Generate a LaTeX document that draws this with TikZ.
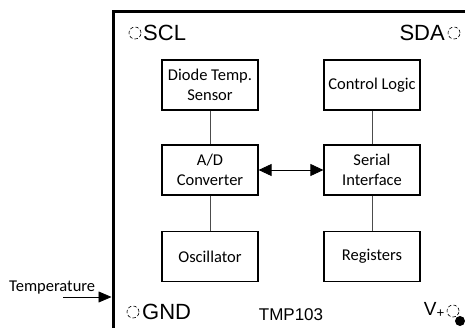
\documentclass[tikz,border=0pt]{standalone}
\usepackage{fontspec}
\setmainfont{Carlito}
\newfontfamily\arialf{Liberation Sans}
\usetikzlibrary{arrows.meta}
\begin{document}
\begin{tikzpicture}[x=1pt,y=-1pt,
  blk/.style={draw,line width=1.2pt,minimum width=96pt,minimum height=50pt,align=center,font=\fontsize{16.5}{20}\selectfont,inner sep=0pt},
  pin/.style={draw,dash pattern=on 3.5pt off 2pt,line width=0.6pt,circle,minimum size=12pt,inner sep=0pt},
  lbl/.style={font=\arialf\fontsize{22}{24}\selectfont,inner sep=0pt},
  conn/.style={line width=0.6pt,draw=black!70},
  tri/.style={-{Triangle[length=13pt,width=11pt]}}]
\useasboundingbox (0,0) rectangle (465,328);
% chip outline
\draw[line width=3pt] (113,345) -- (113,12) -- (480,12);
% blocks
\node[blk] (diode) at (210,85) {Diode Temp.\\Sensor};
\node[blk] (ctrl) at (372,85) {Control Logic};
\node[blk] (adc) at (210,170) {A/D\\Converter};
\node[blk] (ser) at (372,170) {Serial\\Interface};
\node[blk] (osc) at (210,256.5) {Oscillator};
\node[blk] (reg) at (372,256.5) {Registers};
\draw[conn] (diode) -- (adc);
\draw[conn] (adc) -- (osc);
\draw[conn] (ctrl) -- (ser);
\draw[conn] (ser) -- (reg);
\draw[line width=0.8pt,{Triangle[length=13pt,width=12pt]}-{Triangle[length=13pt,width=12pt]}] (adc) -- (ser);
% pins
\node[pin] (sclpin) at (135,33) {};
\node[lbl,anchor=west] (scl) at (143,33) {SCL};
\node[pin] (sdapin) at (454,33) {};
\node[lbl,anchor=east] (sda) at (445,33) {SDA};
\node[pin] (gndpin) at (133,312) {};
\node[lbl,anchor=west] (gnd) at (142,312) {GND};
\node[font=\arialf\fontsize{17}{19}\selectfont,inner sep=0pt] (tmp) at (291,315) {TMP103};
\node[pin] (vpin) at (453,311) {};
\node[lbl,anchor=east,font=\arialf\fontsize{19}{21}\selectfont] (vplus) at (445,310) {V\textsubscript{+}};
\fill (460,321) circle (5pt);
% temperature input
\node[font=\fontsize{16.5}{18}\selectfont,anchor=south west,inner sep=0pt] (temp) at (9,294) {Temperature};
\coordinate (tstart) at (63,297);
\coordinate (tend) at (111.5,297);
\draw[line width=0.8pt,tri] (tstart) -- (tend);
\end{tikzpicture}
\end{document}
